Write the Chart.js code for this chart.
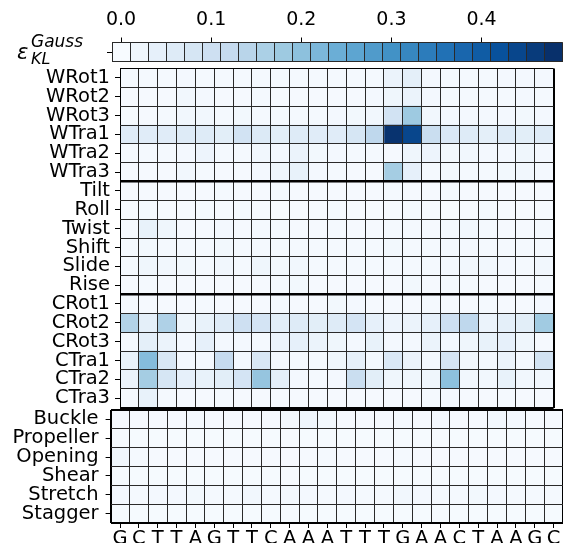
<!DOCTYPE html>
<html>
<head>
<meta charset="utf-8">
<script src="https://cdn.jsdelivr.net/npm/chart.js@4.4.0/dist/chart.umd.min.js"></script>
<style>
  html, body { margin: 0; padding: 0; background: #fff; }
  #wrap { position: relative; width: 563px; height: 547px; overflow: hidden; }
  #wrap canvas { position: absolute; left: 0; top: 0; }
  .cb-label { position: absolute; font-family: 'DejaVu Sans', sans-serif; font-style: italic; color: #000; white-space: nowrap; line-height: 1; }
</style>
</head>
<body>
<div id="wrap">
  <canvas id="cb" width="563" height="547"></canvas>
  <canvas id="step" width="563" height="547"></canvas>
  <canvas id="pair" width="563" height="547"></canvas>
  <div class="cb-label" style="left:17px; top:42px; font-size:21px;">ε</div>
  <div class="cb-label" style="left:31px; top:33px; font-size:17px;">Gauss</div>
  <div class="cb-label" style="left:31px; top:51px; font-size:16px;">KL</div>
</div>
<script>
/* KL divergence heatmap: base-pair-step and base-pair parameters */

const bases = ['G','C','T','T','A','G','T','T','C','A','A','A','T','T','T','G','A','A','C','T','A','A','G','C'];

const wRows   = ['WRot1','WRot2','WRot3','WTra1','WTra2','WTra3'];
const bpsRows = ['Tilt','Roll','Twist','Shift','Slide','Rise'];
const cRows   = ['CRot1','CRot2','CRot3','CTra1','CTra2','CTra3'];
const bpRows  = ['Buckle','Propeller','Opening','Shear','Stretch','Stagger'];

// 23 steps per row
const wVals = [
  [0.008,0.008,0.008,0.010,0.008,0.008,0.008,0.008,0.008,0.008,0.008,0.008,0.008,0.008,0.030,0.045,0.010,0.008,0.008,0.008,0.010,0.010,0.010],
  [0.006,0.006,0.006,0.015,0.010,0.006,0.006,0.008,0.006,0.006,0.006,0.006,0.006,0.010,0.020,0.030,0.010,0.008,0.008,0.008,0.008,0.010,0.008],
  [0.005,0.006,0.008,0.015,0.015,0.008,0.012,0.008,0.008,0.008,0.008,0.010,0.012,0.015,0.090,0.180,0.015,0.010,0.010,0.010,0.010,0.012,0.010],
  [0.060,0.055,0.055,0.060,0.060,0.050,0.090,0.065,0.050,0.060,0.055,0.055,0.080,0.130,0.475,0.440,0.110,0.070,0.060,0.045,0.060,0.050,0.060],
  [0.008,0.008,0.008,0.010,0.025,0.008,0.008,0.015,0.010,0.030,0.012,0.010,0.008,0.008,0.006,0.020,0.025,0.012,0.015,0.010,0.010,0.020,0.010],
  [0.006,0.006,0.006,0.015,0.008,0.006,0.006,0.010,0.020,0.035,0.010,0.008,0.006,0.006,0.170,0.040,0.008,0.012,0.008,0.008,0.012,0.015,0.010]
];
const bpsVals = [
  [0.006,0.006,0.006,0.006,0.006,0.008,0.006,0.006,0.008,0.006,0.006,0.006,0.006,0.006,0.008,0.006,0.006,0.008,0.006,0.006,0.006,0.006,0.006],
  [0.006,0.008,0.006,0.006,0.008,0.006,0.008,0.006,0.006,0.006,0.006,0.008,0.006,0.006,0.006,0.008,0.006,0.006,0.006,0.008,0.006,0.006,0.006],
  [0.006,0.035,0.020,0.006,0.006,0.010,0.006,0.008,0.008,0.006,0.006,0.008,0.006,0.006,0.008,0.008,0.006,0.008,0.015,0.008,0.006,0.006,0.008],
  [0.008,0.012,0.008,0.008,0.008,0.012,0.008,0.008,0.008,0.008,0.008,0.008,0.008,0.008,0.012,0.008,0.008,0.010,0.010,0.008,0.008,0.008,0.008],
  [0.008,0.020,0.015,0.012,0.008,0.015,0.008,0.020,0.012,0.015,0.008,0.008,0.008,0.008,0.008,0.008,0.008,0.010,0.015,0.015,0.010,0.008,0.015],
  [0.006,0.008,0.006,0.006,0.006,0.006,0.006,0.006,0.008,0.012,0.006,0.006,0.006,0.006,0.006,0.012,0.006,0.008,0.008,0.006,0.006,0.006,0.008]
];
const cVals = [
  [0.008,0.006,0.006,0.006,0.008,0.006,0.006,0.006,0.008,0.006,0.006,0.012,0.010,0.006,0.006,0.006,0.008,0.006,0.006,0.008,0.006,0.006,0.010],
  [0.150,0.045,0.155,0.020,0.035,0.060,0.100,0.085,0.050,0.060,0.050,0.060,0.085,0.040,0.025,0.030,0.040,0.100,0.130,0.030,0.045,0.050,0.175],
  [0.008,0.045,0.030,0.010,0.040,0.010,0.010,0.008,0.030,0.040,0.030,0.020,0.010,0.035,0.010,0.010,0.030,0.010,0.020,0.035,0.040,0.020,0.006],
  [0.035,0.210,0.075,0.010,0.010,0.120,0.010,0.075,0.010,0.008,0.008,0.020,0.040,0.010,0.070,0.030,0.010,0.085,0.015,0.010,0.030,0.010,0.090],
  [0.030,0.170,0.080,0.040,0.035,0.050,0.085,0.190,0.045,0.010,0.008,0.010,0.110,0.050,0.020,0.020,0.020,0.200,0.015,0.015,0.035,0.015,0.015],
  [0.008,0.035,0.008,0.006,0.006,0.008,0.006,0.006,0.006,0.006,0.006,0.006,0.006,0.006,0.006,0.006,0.008,0.010,0.006,0.006,0.008,0.006,0.006]
];
// 24 base pairs per row
const bpVals = [
  [0.006,0.006,0.006,0.006,0.008,0.006,0.006,0.006,0.006,0.012,0.020,0.012,0.006,0.006,0.006,0.008,0.006,0.010,0.006,0.006,0.015,0.010,0.006,0.006],
  [0.005,0.005,0.005,0.005,0.005,0.005,0.005,0.005,0.005,0.005,0.005,0.005,0.005,0.005,0.005,0.005,0.005,0.005,0.005,0.005,0.005,0.005,0.005,0.005],
  [0.020,0.008,0.006,0.006,0.006,0.006,0.006,0.006,0.006,0.006,0.006,0.008,0.006,0.006,0.006,0.008,0.006,0.006,0.006,0.006,0.006,0.006,0.006,0.006],
  [0.005,0.005,0.005,0.005,0.005,0.005,0.005,0.005,0.005,0.005,0.005,0.005,0.005,0.005,0.005,0.005,0.005,0.005,0.005,0.005,0.005,0.005,0.005,0.005],
  [0.010,0.008,0.010,0.010,0.012,0.008,0.008,0.015,0.008,0.012,0.010,0.008,0.010,0.008,0.008,0.015,0.010,0.008,0.008,0.012,0.010,0.008,0.008,0.008],
  [0.005,0.005,0.005,0.005,0.005,0.005,0.005,0.005,0.005,0.005,0.005,0.005,0.005,0.005,0.005,0.005,0.005,0.005,0.005,0.005,0.005,0.005,0.005,0.005]
];

// colour bar levels and tick values
const cbLevels = [0.00,0.02,0.04,0.06,0.08,0.10,0.12,0.14,0.16,0.18,0.20,0.22,0.24,0.26,0.28,0.30,0.32,0.34,0.36,0.38,0.40,0.42,0.44,0.46,0.48];
const cbTicks  = [0.0, 0.1, 0.2, 0.3, 0.4];
const CB_STEP = 0.02;
const VMAX = 0.48;

const W = 563, H = 547;
const FONT = { family: "'DejaVu Sans', sans-serif", size: 19.5 };
const CB_FONT = { family: "'DejaVu Sans', sans-serif", size: 19 };
const THIN = '#2a2a2a';

// matplotlib "Blues"
const BLUES = ['#f7fbff','#deebf7','#c6dbef','#9ecae1','#6baed6','#4292c6','#2171b5','#08519c','#08306b'];
function hexRgb(h) { return [1, 3, 5].map(i => parseInt(h.slice(i, i + 2), 16)); }
function blues(t) {
  t = Math.min(1, Math.max(0, t));
  const p = t * (BLUES.length - 1);
  const i = Math.min(BLUES.length - 2, Math.floor(p));
  const f = p - i;
  const a = hexRgb(BLUES[i]), b = hexRgb(BLUES[i + 1]);
  const c = a.map((v, k) => Math.round(v + (b[k] - v) * f));
  return `rgb(${c[0]},${c[1]},${c[2]})`;
}

const indexTicks = (n, off) => Array.from({ length: n }, (_, i) => ({ value: i + off }));

const baseOptions = {
  indexAxis: 'y',
  responsive: false,
  animation: false,
  events: [],
  plugins: { legend: { display: false }, tooltip: { enabled: false } },
  datasets: { bar: { grouped: false, barPercentage: 1, categoryPercentage: 1, borderWidth: 0 } }
};

// label axis: ticks placed at cell centres, no offset (bar charts default it on for the index axis)
function labelAxis(extra) {
  return Object.assign({
    type: 'linear', offset: false,
    grid: { offset: false, drawOnChartArea: false, tickLength: 5, color: '#000', lineWidth: 1 },
    border: { display: false }
  }, extra);
}

// rows x columns of coloured cells; area = chart area in page pixels
function createHeatmap(canvas, rows, values, area, opts) {
  const nRows = rows.length;
  const nCols = values[0].length;
  const breaks = opts.breaks || [];
  const xlHeight = opts.xLabels ? H - area.bottom - 4 : 0;

  const datasets = [];
  for (let c = 0; c < nCols; c++) {
    datasets.push({
      data: rows.map(() => [c, c + 1]),
      backgroundColor: rows.map((_, r) => blues(values[r][c] / VMAX)),
      xAxisID: 'x', yAxisID: 'y'
    });
  }

  return new Chart(canvas, {
    type: 'bar',
    data: { labels: rows, datasets },
    options: {
      ...baseOptions,
      layout: { padding: { left: 0, top: area.top, right: W - area.right, bottom: H - area.bottom - xlHeight } },
      scales: {
        x: {
          type: 'linear', min: 0, max: nCols,
          afterBuildTicks: s => { s.ticks = indexTicks(nCols + 1, 0); },
          ticks: { display: false },
          grid: {
            z: 1, drawTicks: false, color: ctx => (ctx.index === 0 || ctx.index === nCols) ? '#000' : THIN,
            lineWidth: ctx => ctx.index === 0 ? opts.edgeLeft : ctx.index === nCols ? opts.edgeRight : 1
          },
          border: { display: false }
        },
        xl: labelAxis({
          position: 'bottom', min: 0, max: nCols, display: !!opts.xLabels,
          afterBuildTicks: s => { s.ticks = indexTicks(nCols, 0.5); },
          afterFit: s => { s.height = xlHeight; },
          ticks: {
            autoSkip: false, maxRotation: 0, padding: -1, color: '#000', font: FONT,
            callback: (v, i) => opts.xLabels ? opts.xLabels[i] : ''
          }
        }),
        y: {
          type: 'category', labels: rows,
          ticks: { display: false },
          grid: {
            offset: true, z: 1, drawTicks: false,
            color: ctx => {
              const i = ctx.index === undefined ? nRows : ctx.index;
              return (i === 0 || i === nRows || breaks.includes(i)) ? '#000' : THIN;
            },
            lineWidth: ctx => {
              const i = ctx.index === undefined ? nRows : ctx.index;
              if (i === 0) return opts.edgeTop;
              if (i === nRows) return opts.edgeBottom;
              return breaks.includes(i) ? 2.5 : 1;
            }
          },
          border: { display: false }
        },
        yl: labelAxis({
          position: 'left', reverse: true, min: 0, max: nRows,
          afterBuildTicks: s => { s.ticks = indexTicks(nRows, 0.5); },
          afterFit: s => { s.width = area.left; },
          ticks: { autoSkip: false, padding: opts.labelPad, color: '#000', font: FONT, callback: (v, i) => rows[i] }
        })
      }
    }
  });
}

// colour bar drawn as a single row of cells
function createColorbar(canvas, area) {
  const lo = cbLevels[0] - CB_STEP / 2;
  const hi = cbLevels[cbLevels.length - 1] + CB_STEP / 2;
  const edges = cbLevels.map(v => ({ value: v - CB_STEP / 2 })).concat([{ value: hi }]);

  return new Chart(canvas, {
    type: 'bar',
    data: {
      labels: [''],
      datasets: cbLevels.map(v => ({
        data: [[v - CB_STEP / 2, v + CB_STEP / 2]],
        backgroundColor: blues(v / VMAX),
        xAxisID: 'x', yAxisID: 'y'
      }))
    },
    options: {
      ...baseOptions,
      layout: { padding: { left: 0, top: 0, right: W - area.right, bottom: H - area.bottom } },
      scales: {
        x: {
          type: 'linear', min: lo, max: hi,
          afterBuildTicks: s => { s.ticks = edges; },
          ticks: { display: false },
          grid: { z: 1, drawTicks: false, color: THIN, lineWidth: 1 },
          border: { display: false }
        },
        xt: labelAxis({
          position: 'top', min: lo, max: hi,
          afterBuildTicks: s => { s.ticks = cbTicks.map(v => ({ value: v })); },
          afterFit: s => { s.height = area.top; },
          ticks: { autoSkip: false, maxRotation: 0, padding: 6, color: '#000', font: CB_FONT, callback: v => Number(v).toFixed(1) }
        }),
        y: {
          type: 'category', labels: [''],
          ticks: { display: false },
          grid: { offset: true, z: 1, drawTicks: false, color: THIN, lineWidth: 1 },
          border: { display: false }
        },
        yl: labelAxis({
          position: 'left', min: 0, max: 1,
          afterBuildTicks: s => { s.ticks = [{ value: 0.5 }]; },
          afterFit: s => { s.width = area.left; },
          ticks: { autoSkip: false, padding: 0, callback: () => '' }
        })
      }
    }
  });
}

createColorbar(document.getElementById('cb'), { left: 112, top: 42.5, right: 562.7, bottom: 61.7 });

createHeatmap(document.getElementById('step'),
  wRows.concat(bpsRows, cRows), wVals.concat(bpsVals, cVals),
  { left: 120, top: 68.5, right: 553.6, bottom: 407.6 },
  { breaks: [6, 12], edgeLeft: 1, edgeRight: 2, edgeTop: 1, edgeBottom: 2, labelPad: 5 });

createHeatmap(document.getElementById('pair'),
  bpRows, bpVals,
  { left: 110.6, top: 410, right: 563, bottom: 523 },
  { xLabels: bases, edgeLeft: 2, edgeRight: 2, edgeTop: 2, edgeBottom: 2, labelPad: 7 });
</script>
</body>
</html>
